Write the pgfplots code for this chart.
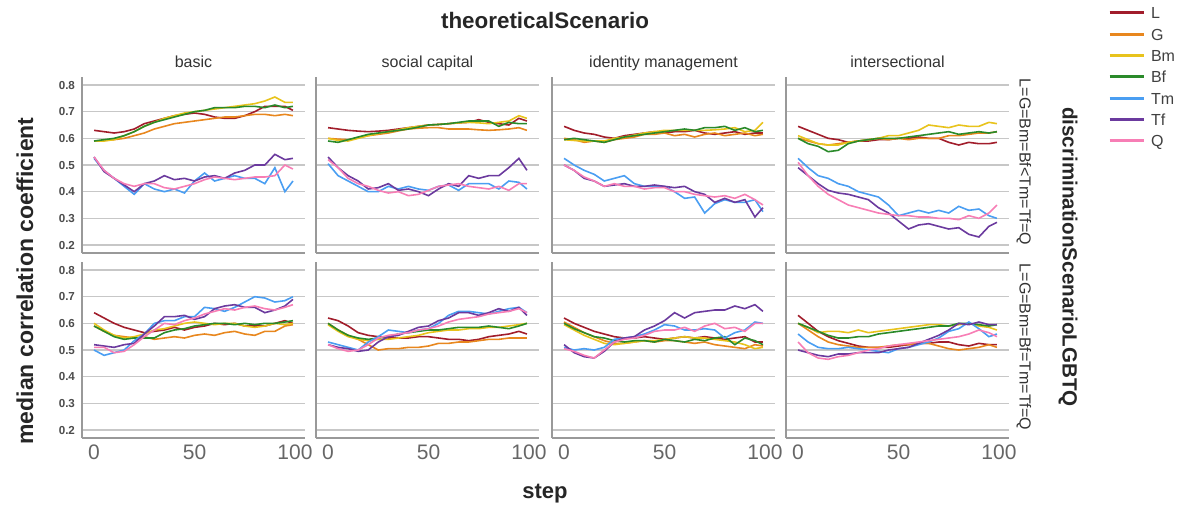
\documentclass[border=0pt]{standalone}
\usepackage{fontspec}
\setmainfont{Liberation Sans}
\usepackage{pgfplots}
\usepackage{pgfplotstable}
\pgfplotsset{compat=1.18}
\definecolor{cL}{HTML}{A11D2B}
\definecolor{cG}{HTML}{E8871E}
\definecolor{cBm}{HTML}{E8C31C}
\definecolor{cBf}{HTML}{2A8A2A}
\definecolor{cTm}{HTML}{4A9EF2}
\definecolor{cTf}{HTML}{6B3A9E}
\definecolor{cQ}{HTML}{F77EB5}

\pgfplotstableread{
x L G Bm Bf Tm Tf Q
0  .630 .590 .590 .590 .525 .530 .530
5  .625 .592 .590 .595 .480 .475 .480
10 .620 .595 .595 .600 .450 .450 .450
15 .625 .600 .610 .610 .420 .425 .430
20 .635 .610 .625 .625 .390 .400 .420
25 .655 .620 .645 .645 .430 .430 .430
30 .665 .635 .660 .660 .410 .440 .430
35 .675 .645 .675 .670 .400 .460 .415
40 .685 .655 .685 .680 .410 .445 .410
45 .690 .660 .695 .690 .395 .450 .420
50 .695 .665 .700 .700 .440 .440 .430
55 .690 .670 .705 .705 .470 .455 .445
60 .680 .675 .710 .715 .440 .460 .455
65 .675 .680 .715 .715 .450 .450 .450
70 .675 .680 .720 .715 .460 .470 .445
75 .685 .685 .725 .720 .450 .480 .450
80 .700 .690 .730 .720 .450 .500 .455
85 .720 .690 .740 .715 .430 .500 .455
90 .720 .685 .755 .725 .490 .540 .460
95 .720 .690 .735 .715 .400 .520 .500
99 .705 .685 .735 .720 .440 .525 .485
}\Pone

\pgfplotstableread{
x L G Bm Bf Tm Tf Q
0  .640 .600 .600 .590 .505 .530 .520
5  .635 .597 .592 .585 .460 .490 .490
10 .630 .595 .590 .595 .440 .460 .450
15 .627 .602 .600 .605 .420 .440 .430
20 .625 .610 .610 .615 .400 .410 .420
25 .627 .615 .618 .620 .400 .415 .405
30 .630 .620 .625 .625 .420 .430 .395
35 .635 .628 .632 .630 .410 .405 .400
40 .640 .635 .640 .635 .420 .410 .385
45 .645 .638 .645 .642 .410 .400 .390
50 .650 .640 .650 .650 .405 .385 .405
55 .652 .640 .652 .652 .420 .410 .420
60 .655 .635 .655 .655 .425 .430 .425
65 .658 .635 .658 .660 .405 .420 .430
70 .660 .635 .660 .665 .430 .460 .420
75 .670 .632 .658 .665 .430 .450 .415
80 .660 .630 .655 .665 .430 .460 .410
85 .655 .632 .660 .645 .410 .460 .420
90 .650 .635 .665 .660 .440 .490 .405
95 .675 .640 .685 .655 .435 .525 .430
99 .665 .630 .675 .655 .410 .480 .430
}\Ptwo

\pgfplotstableread{
x L G Bm Bf Tm Tf Q
0  .645 .600 .595 .595 .525 .500 .500
5  .630 .595 .592 .600 .500 .480 .480
10 .620 .585 .590 .595 .480 .450 .455
15 .615 .590 .590 .590 .465 .440 .440
20 .605 .585 .590 .585 .440 .420 .420
25 .600 .595 .600 .595 .450 .425 .430
30 .610 .600 .605 .605 .460 .430 .420
35 .615 .605 .612 .610 .430 .420 .420
40 .620 .615 .620 .615 .420 .420 .410
45 .625 .615 .625 .620 .420 .425 .415
50 .620 .620 .630 .625 .420 .420 .415
55 .625 .610 .630 .630 .400 .415 .400
60 .625 .615 .630 .635 .375 .420 .400
65 .630 .605 .630 .630 .380 .400 .390
70 .620 .615 .630 .640 .320 .390 .385
75 .615 .620 .632 .640 .355 .360 .380
80 .620 .610 .635 .645 .370 .375 .385
85 .625 .615 .640 .630 .360 .360 .375
90 .615 .620 .625 .640 .360 .370 .390
95 .620 .610 .630 .625 .370 .305 .370
99 .620 .615 .660 .630 .325 .340 .350
}\Pthree

\pgfplotstableread{
x L G Bm Bf Tm Tf Q
0  .645 .600 .610 .600 .525 .490 .510
5  .630 .590 .595 .580 .490 .460 .460
10 .615 .580 .580 .570 .460 .430 .420
15 .600 .575 .575 .550 .450 .405 .390
20 .595 .580 .575 .555 .430 .395 .370
25 .585 .585 .585 .580 .420 .390 .350
30 .590 .590 .590 .590 .400 .380 .340
35 .590 .595 .595 .595 .390 .370 .330
40 .595 .600 .600 .600 .380 .340 .320
45 .595 .595 .610 .600 .350 .320 .315
50 .600 .600 .610 .600 .310 .290 .310
55 .600 .595 .620 .605 .320 .260 .310
60 .605 .600 .630 .610 .330 .275 .305
65 .600 .600 .650 .615 .320 .280 .305
70 .600 .600 .645 .620 .330 .270 .300
75 .585 .610 .640 .625 .320 .260 .300
80 .575 .610 .650 .615 .345 .265 .295
85 .585 .615 .645 .620 .330 .240 .310
90 .580 .620 .645 .625 .335 .230 .300
95 .580 .620 .660 .620 .310 .270 .320
99 .585 .625 .655 .625 .300 .285 .350
}\Pfour

\pgfplotstableread{
x L G Bm Bf Tm Tf Q
0  .640 .590 .600 .590 .500 .520 .510
5  .620 .570 .575 .570 .480 .515 .510
10 .600 .555 .555 .550 .490 .510 .490
15 .585 .550 .545 .540 .500 .520 .495
20 .575 .545 .550 .545 .535 .525 .520
25 .565 .550 .560 .545 .560 .560 .550
30 .570 .540 .575 .545 .600 .590 .575
35 .575 .545 .580 .565 .610 .625 .600
40 .585 .550 .590 .575 .610 .625 .595
45 .575 .545 .600 .580 .625 .630 .610
50 .585 .555 .605 .590 .625 .615 .620
55 .590 .560 .600 .595 .660 .625 .635
60 .600 .555 .595 .600 .655 .655 .645
65 .595 .565 .600 .600 .645 .665 .655
70 .600 .570 .600 .595 .660 .670 .650
75 .590 .560 .590 .600 .680 .660 .660
80 .590 .555 .585 .595 .700 .660 .665
85 .590 .570 .590 .600 .695 .640 .655
90 .600 .570 .600 .600 .680 .650 .650
95 .610 .590 .595 .605 .685 .665 .660
99 .600 .595 .600 .610 .700 .690 .670
}\Pfive

\pgfplotstableread{
x L G Bm Bf Tm Tf Q
0  .620 .600 .595 .600 .530 .520 .520
5  .610 .575 .570 .575 .520 .510 .505
10 .590 .555 .550 .555 .510 .505 .495
15 .565 .540 .540 .545 .500 .495 .500
20 .555 .520 .535 .540 .530 .500 .520
25 .550 .500 .540 .545 .550 .530 .545
30 .545 .505 .540 .550 .575 .550 .555
35 .545 .505 .545 .560 .570 .555 .560
40 .545 .510 .550 .565 .565 .570 .565
45 .550 .510 .555 .570 .575 .585 .575
50 .550 .515 .565 .575 .580 .590 .580
55 .545 .525 .570 .575 .600 .610 .590
60 .540 .525 .575 .580 .630 .620 .605
65 .540 .530 .575 .585 .645 .640 .615
70 .535 .530 .580 .585 .645 .640 .620
75 .540 .535 .580 .585 .640 .630 .625
80 .550 .540 .585 .590 .635 .640 .635
85 .555 .540 .585 .585 .645 .655 .640
90 .560 .545 .590 .580 .655 .645 .645
95 .570 .545 .595 .590 .660 .660 .655
99 .560 .545 .600 .600 .640 .630 .640
}\Psix

\pgfplotstableread{
x L G Bm Bf Tm Tf Q
0  .620 .605 .595 .600 .510 .520 .505
5  .600 .585 .575 .580 .500 .490 .495
10 .585 .565 .555 .565 .505 .475 .480
15 .570 .550 .540 .550 .500 .470 .470
20 .560 .535 .525 .545 .510 .495 .500
25 .550 .525 .520 .535 .540 .530 .530
30 .545 .525 .525 .530 .545 .545 .540
35 .545 .530 .530 .535 .550 .550 .545
40 .550 .535 .535 .535 .560 .575 .555
45 .545 .530 .535 .530 .575 .590 .570
50 .540 .535 .540 .540 .595 .610 .575
55 .545 .535 .545 .535 .590 .640 .575
60 .550 .530 .550 .530 .575 .620 .585
65 .545 .525 .545 .540 .575 .640 .570
70 .550 .530 .545 .535 .580 .645 .590
75 .545 .520 .540 .545 .575 .650 .600
80 .540 .515 .535 .550 .545 .650 .580
85 .545 .510 .530 .520 .565 .665 .585
90 .550 .505 .520 .545 .575 .655 .570
95 .530 .520 .505 .535 .605 .670 .600
99 .530 .515 .510 .520 .600 .645 .600
}\Pseven

\pgfplotstableread{
x L G Bm Bf Tm Tf Q
0  .630 .600 .600 .600 .560 .500 .530
5  .600 .575 .585 .585 .530 .490 .490
10 .570 .550 .565 .570 .510 .480 .470
15 .550 .530 .570 .555 .505 .475 .465
20 .535 .520 .570 .545 .505 .485 .475
25 .525 .515 .565 .545 .510 .485 .480
30 .515 .510 .575 .550 .505 .490 .490
35 .510 .510 .565 .550 .500 .490 .500
40 .510 .510 .570 .560 .495 .490 .505
45 .510 .515 .575 .565 .490 .500 .515
50 .515 .520 .580 .570 .505 .505 .520
55 .520 .520 .585 .575 .510 .510 .525
60 .525 .525 .590 .580 .520 .525 .530
65 .525 .525 .595 .585 .530 .540 .535
70 .530 .515 .595 .590 .545 .555 .540
75 .530 .505 .590 .590 .570 .575 .545
80 .520 .500 .595 .600 .580 .600 .550
85 .515 .505 .600 .600 .605 .595 .560
90 .525 .510 .590 .595 .580 .605 .575
95 .520 .520 .585 .590 .550 .595 .565
99 .520 .510 .575 .595 .560 .595 .550
}\Peight

\pgfplotsset{
  panel/.style={
    scale only axis, width=111.5pt, height=88pt,
    xmin=-6, xmax=105, ymin=0.17, ymax=0.83,
    axis x line*=bottom, axis y line*=left,
    axis line style={draw=black!40, line width=0.9pt},
    ytick={0.2,0.3,0.4,0.5,0.6,0.7,0.8}, xtick={0,50,100},
    major tick length=0pt,
    ymajorgrids, grid style={black!22, line width=0.8pt},
    yticklabel style={font=\fontsize{5.8}{6}\selectfont\bfseries, text=black!70,
      /pgf/number format/.cd, fixed, fixed zerofill, precision=1, assume math mode=true},
    xticklabel style={font=\fontsize{10.5}{11}\selectfont, text=black!60,
      /pgf/number format/assume math mode=true},
    every axis plot/.append style={line width=0.8pt, no markers},
  },
}
\newcommand{\plotall}[1]{%
  \addplot[cL] table[x=x,y=L]{#1};
  \addplot[cG] table[x=x,y=G]{#1};
  \addplot[cBm] table[x=x,y=Bm]{#1};
  \addplot[cBf] table[x=x,y=Bf]{#1};
  \addplot[cTm] table[x=x,y=Tm]{#1};
  \addplot[cTf] table[x=x,y=Tf]{#1};
  \addplot[cQ] table[x=x,y=Q]{#1};
}

\begin{document}
\begin{tikzpicture}
\useasboundingbox (0,0) rectangle (590.5pt,255.5pt);
% top row
\begin{axis}[panel, at={(41pt,129pt)}, anchor=south west, xticklabels={}]
\plotall{\Pone}
\end{axis}
\begin{axis}[panel, at={(158pt,129pt)}, anchor=south west, xticklabels={}, yticklabels={}]
\plotall{\Ptwo}
\end{axis}
\begin{axis}[panel, at={(276pt,129pt)}, anchor=south west, xticklabels={}, yticklabels={}]
\plotall{\Pthree}
\end{axis}
\begin{axis}[panel, at={(393pt,129pt)}, anchor=south west, xticklabels={}, yticklabels={},
  legend style={at={(1.444,1.398)}, anchor=north west, draw=none, fill=none,
    font=\fontsize{8}{8}\selectfont, text=black!75, inner sep=0pt, outer sep=0pt,
    row sep=4.65pt,
    nodes={inner sep=0pt, text height=6pt, text depth=0pt},
    /tikz/every odd column/.append style={column sep=3pt}},
  legend cell align=left,
  legend image code/.code={\draw[line width=1.5pt] (0pt,0pt) -- (17pt,0pt);}]
\plotall{\Pfour}
\legend{L,G,Bm,Bf,Tm,Tf,Q}
\end{axis}
% bottom row
\begin{axis}[panel, at={(41pt,36.5pt)}, anchor=south west]
\plotall{\Pfive}
\end{axis}
\begin{axis}[panel, at={(158pt,36.5pt)}, anchor=south west, yticklabels={}]
\plotall{\Psix}
\end{axis}
\begin{axis}[panel, at={(276pt,36.5pt)}, anchor=south west, yticklabels={}]
\plotall{\Pseven}
\end{axis}
\begin{axis}[panel, at={(393pt,36.5pt)}, anchor=south west, yticklabels={}]
\plotall{\Peight}
\end{axis}
% labels
\node[font=\fontsize{11.2}{12}\selectfont\bfseries, text=black!85] at (272.5pt,245.5pt) {theoreticalScenario};
\begin{scope}[every node/.style={font=\fontsize{8}{8}\selectfont, text=black!80, anchor=base}]
\node at (96.75pt,222pt) {basic};
\node at (213.75pt,222pt) {social capital};
\node at (331.75pt,222pt) {identity management};
\node at (448.75pt,222pt) {intersectional};
\end{scope}
\node[font=\fontsize{11}{12}\selectfont\bfseries, text=black!85] at (272.5pt,8.5pt) {step};
\node[font=\fontsize{11.5}{12}\selectfont\bfseries, text=black!85, rotate=90] at (12.5pt,115pt) {median correlation coefficient};
\node[font=\fontsize{8}{8}\selectfont, text=black!80, rotate=-90] at (512pt,174.5pt) {L=G=Bm=Bf<Tm=Tf=Q};
\node[font=\fontsize{8}{8}\selectfont, text=black!80, rotate=-90] at (512pt,82pt) {L=G=Bm=Bf=Tm=Tf=Q};
\node[font=\fontsize{10.3}{11}\selectfont\bfseries, text=black!85, rotate=-90] at (534pt,127pt) {discriminationScenarioLGBTQ};
\end{tikzpicture}
\end{document}
